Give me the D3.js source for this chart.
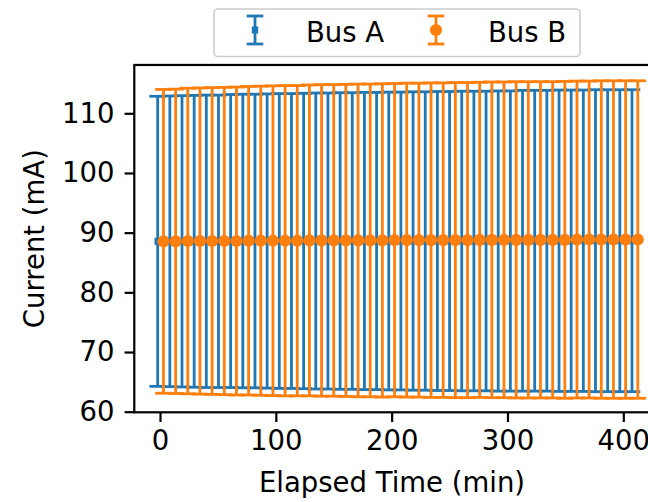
<!DOCTYPE html>
<html lang="en">
<head>
<meta charset="UTF-8">
<title>Bus current over time</title>
<script src="https://d3js.org/d3.v7.min.js"></script>
<style>
  body { margin: 0; background: #fff; }
  text { font-family: "DejaVu Sans", sans-serif; fill: #000; }
</style>
</head>
<body>
<svg width="648" height="502"></svg>
<script>
// data
const seriesNames = ["Bus A", "Bus B"];
const timesA = [-2, 8.5, 19, 29.5, 40, 50.5, 61, 71.5, 82, 92.5, 103, 113.5, 124, 134.5, 145, 155.5, 166, 176.5, 187, 197.5,
  208, 218.5, 229, 239.5, 250, 260.5, 271, 281.5, 292, 302.5, 313, 323.5, 334, 344.5, 355, 365.5, 376, 386.5, 397, 407.5];
const timesB = [3, 13.5, 24, 34.5, 45, 55.5, 66, 76.5, 87, 97.5, 108, 118.5, 129, 139.5, 150, 160.5, 171, 181.5, 192, 202.5,
  213, 223.5, 234, 244.5, 255, 265.5, 276, 286.5, 297, 307.5, 318, 328.5, 339, 349.5, 360, 370.5, 381, 391.5, 402, 412.5];
const meanA = [88.55, 88.55, 88.55, 88.55, 88.55, 88.55, 88.6, 88.6, 88.6, 88.6, 88.6, 88.6, 88.6, 88.6, 88.6, 88.6, 88.6, 88.6, 88.6, 88.6,
  88.6, 88.6, 88.6, 88.6, 88.6, 88.6, 88.6, 88.6, 88.6, 88.6, 88.65, 88.65, 88.65, 88.65, 88.65, 88.65, 88.65, 88.65, 88.65, 88.65];
const errA = [24.3, 24.35, 24.4, 24.45, 24.5, 24.5, 24.55, 24.6, 24.6, 24.65, 24.7, 24.7, 24.75, 24.8, 24.8, 24.85, 24.85, 24.9, 24.9, 24.95,
  24.95, 25.0, 25.0, 25.05, 25.05, 25.1, 25.1, 25.1, 25.15, 25.15, 25.2, 25.2, 25.2, 25.25, 25.25, 25.25, 25.3, 25.3, 25.3, 25.3];
const meanB = [88.55, 88.55, 88.6, 88.6, 88.6, 88.6, 88.6, 88.65, 88.65, 88.65, 88.65, 88.65, 88.7, 88.7, 88.7, 88.7, 88.7, 88.7, 88.7, 88.75,
  88.75, 88.75, 88.75, 88.75, 88.75, 88.75, 88.8, 88.8, 88.8, 88.8, 88.8, 88.8, 88.8, 88.8, 88.85, 88.85, 88.85, 88.85, 88.85, 88.85];
const errB = [25.45, 25.5, 25.6, 25.65, 25.7, 25.75, 25.8, 25.85, 25.9, 25.95, 26.0, 26.0, 26.05, 26.1, 26.1, 26.15, 26.2, 26.2, 26.25, 26.25,
  26.3, 26.3, 26.35, 26.35, 26.4, 26.4, 26.4, 26.45, 26.45, 26.5, 26.5, 26.5, 26.5, 26.55, 26.55, 26.55, 26.6, 26.6, 26.6, 26.6];
const xTicks = [0, 100, 200, 300, 400];
const yTicks = [60, 70, 80, 90, 100, 110];

const svg = d3.select("svg");
const fontSize = 27.5;

// scales (tick positions)
const x = d3.scaleLinear().domain([0, 400]).range([160, 623.3]);
const y = d3.scaleLinear().domain([60, 110]).range([411.7, 113.3]);
const xMin = -22.2, xMax = 433, yMin = 59.9, yMax = 118.1;
const pLeft = x(xMin), pRight = x(xMax), pTop = y(yMax), pBottom = y(yMin);

const colors = ["#1f77b4", "#ff7f0e"];
const lw = 2.8, capHalf = 8.3, dotR = 6.1;

const seriesList = [
  { name: seriesNames[0], t: timesA, m: meanA, e: errA, color: colors[0], marker: "square" },
  { name: seriesNames[1], t: timesB, m: meanB, e: errB, color: colors[1], marker: "circle" }
];

const plot = svg.append("g");

seriesList.forEach(s => {
  const g = plot.append("g");
  const pts = s.t.map((t, i) => ({ t: t, m: s.m[i], e: s.e[i] }));
  g.selectAll("line.bar").data(pts).enter().append("line")
    .attr("x1", d => x(d.t)).attr("x2", d => x(d.t))
    .attr("y1", d => y(d.m - d.e)).attr("y2", d => y(d.m + d.e))
    .attr("stroke", s.color).attr("stroke-width", lw);
  [-1, 1].forEach(sign => {
    g.selectAll("line.cap" + (sign > 0 ? "Hi" : "Lo")).data(pts).enter().append("line")
      .attr("x1", d => x(d.t) - capHalf).attr("x2", d => x(d.t) + capHalf)
      .attr("y1", d => y(d.m + sign * d.e)).attr("y2", d => y(d.m + sign * d.e))
      .attr("stroke", s.color).attr("stroke-width", lw);
  });
  if (s.marker === "square") {
    g.selectAll("rect").data(pts).enter().append("rect")
      .attr("x", d => x(d.t) - 3.2).attr("y", d => y(d.m) - 3.5)
      .attr("width", 6.4).attr("height", 7).attr("fill", s.color);
  } else {
    g.selectAll("circle").data(pts).enter().append("circle")
      .attr("cx", d => x(d.t)).attr("cy", d => y(d.m)).attr("r", dotR)
      .attr("fill", s.color);
  }
});

// spines
const spineW = 2.2;
svg.append("rect")
  .attr("x", pLeft).attr("y", pTop).attr("width", pRight - pLeft).attr("height", pBottom - pTop)
  .attr("fill", "none").attr("stroke", "#000").attr("stroke-width", spineW);

// axes
const xAxis = svg.append("g")
  .attr("transform", `translate(0,${pBottom})`)
  .call(d3.axisBottom(x).tickValues(xTicks).tickSize(9.7).tickPadding(8).tickFormat(d3.format("d")));
const yAxis = svg.append("g")
  .attr("transform", `translate(${pLeft},0)`)
  .call(d3.axisLeft(y).tickValues(yTicks).tickSize(9.7).tickPadding(10).tickFormat(d3.format("d")));
[xAxis, yAxis].forEach(a => {
  a.select(".domain").remove();
  a.selectAll(".tick line").attr("stroke", "#000").attr("stroke-width", spineW);
  a.selectAll(".tick text").style("font-size", fontSize + "px").attr("font-family", "DejaVu Sans");
});

// axis labels
svg.append("text")
  .attr("x", 392).attr("y", 492)
  .attr("text-anchor", "middle").style("font-size", fontSize + "px")
  .text("Elapsed Time (min)");
svg.append("text")
  .attr("transform", `translate(44,${(pTop + pBottom) / 2}) rotate(-90)`)
  .attr("text-anchor", "middle").style("font-size", fontSize + "px")
  .text("Current (mA)");

// legend
const leg = svg.append("g");
leg.append("rect")
  .attr("x", 214).attr("y", 9).attr("width", 366).attr("height", 47.5).attr("rx", 4)
  .attr("fill", "#fff").attr("fill-opacity", 0.8)
  .attr("stroke", "#cccccc").attr("stroke-width", 1.6);
const legX = [255, 436], textX = [306, 488];
seriesList.forEach((s, i) => {
  const hx = legX[i];
  leg.append("line").attr("x1", hx).attr("x2", hx).attr("y1", 16).attr("y2", 44)
    .attr("stroke", s.color).attr("stroke-width", lw);
  [16, 44].forEach(cy => leg.append("line")
    .attr("x1", hx - capHalf).attr("x2", hx + capHalf).attr("y1", cy).attr("y2", cy)
    .attr("stroke", s.color).attr("stroke-width", lw));
  if (s.marker === "square") {
    leg.append("rect").attr("x", hx - 3.2).attr("y", 26.5).attr("width", 6.4).attr("height", 7).attr("fill", s.color);
  } else {
    leg.append("circle").attr("cx", hx).attr("cy", 30).attr("r", dotR).attr("fill", s.color);
  }
  leg.append("text").attr("x", textX[i]).attr("y", 42)
    .style("font-size", fontSize + "px").text(s.name);
});
</script>
</body>
</html>
